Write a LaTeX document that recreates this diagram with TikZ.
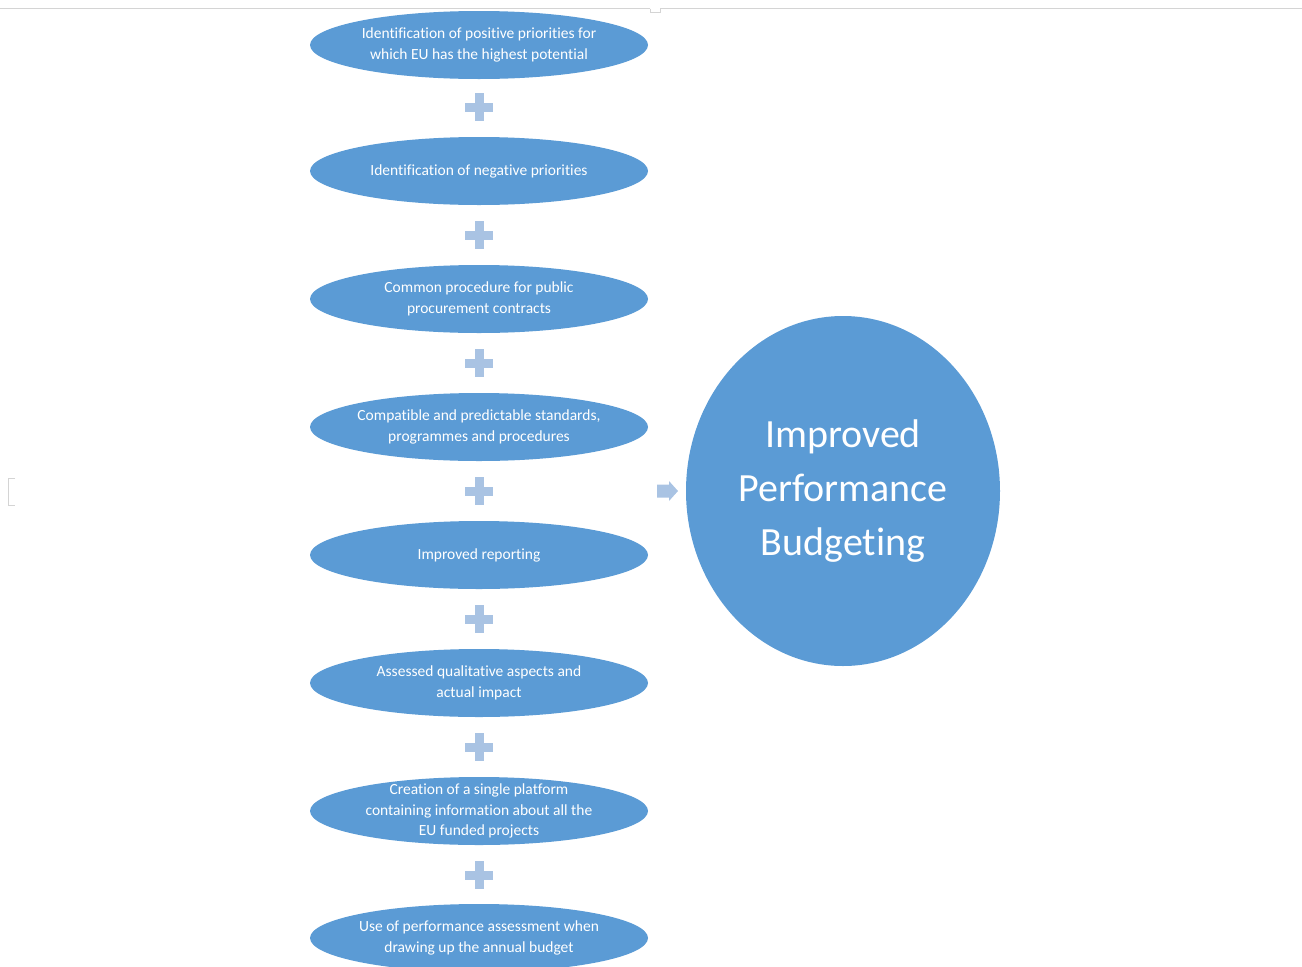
\documentclass[tikz,border=0pt]{standalone}
\usepackage{fontspec}
\setmainfont[RawFeature={-liga;-clig;-dlig;-calt}]{Carlito}
\usetikzlibrary{shapes.geometric}
\definecolor{stepblue}{HTML}{5B9BD5}
\definecolor{plusblue}{HTML}{A9C3E3}
\definecolor{framegray}{HTML}{D4D4D4}
\tikzset{
  stepbox/.style={ellipse, fill=stepblue, text=white, minimum width=338pt, minimum height=68pt,
    inner xsep=-60pt, inner ysep=-20pt, align=center, font=\fontsize{15.5}{20.5}\selectfont},
  resultbox/.style={ellipse, fill=stepblue, text=white, minimum width=314pt, minimum height=350pt,
    inner sep=0pt, align=center, font=\fontsize{40}{54}\selectfont},
  plussign/.pic={\fill[plusblue] (-4.5,-14) rectangle (4.5,14); \fill[plusblue] (-14,-4.5) rectangle (14,4.5);},
  arrowmark/.pic={\fill[plusblue] (-10,-6.5) -- (2,-6.5) -- (2,-10) -- (11,0) -- (2,10) -- (2,6.5) -- (-10,6.5) -- cycle;}
}
\begin{document}
\begin{tikzpicture}[x=1pt,y=-1pt]
\useasboundingbox (0,0) rectangle (1302,967);
\draw[framegray, line width=1pt] (0,8.5) -- (650,8.5) (660,8.5) -- (1302,8.5);
\draw[framegray, line width=1pt] (650,8.5) -- (650,12) -- (660,12) -- (660,8.5);
\draw[framegray, line width=1pt] (15,478) -- (8,478) -- (8,505) -- (15,505);
\begin{scope}
\clip (0,0) rectangle (1302,967);
\node[stepbox] (s1) at (479,45) {Identification of positive priorities for\\which EU has the highest potential};
\node[stepbox] (s2) at (479,171) {Identification of negative priorities};
\node[stepbox] (s3) at (479,299) {Common procedure for public\\procurement contracts};
\node[stepbox] (s4) at (479,427) {Compatible and predictable standards,\\programmes and procedures};
\node[stepbox] (s5) at (479,555) {Improved reporting};
\node[stepbox] (s6) at (479,683) {Assessed qualitative aspects and\\actual impact};
\node[stepbox] (s7) at (479,811) {Creation of a single platform\\containing information about all the\\EU funded projects};
\node[stepbox] (s8) at (479,938) {Use of performance assessment when\\drawing up the annual budget};
\end{scope}
\path (479,107) pic {plussign};
\path (479,235) pic {plussign};
\path (479,363) pic {plussign};
\path (479,491) pic {plussign};
\path (479,619) pic {plussign};
\path (479,747) pic {plussign};
\path (479,875) pic {plussign};
\path (667,491) pic {arrowmark};
\node[resultbox] (res) at (843,491) {Improved\\Performance\\Budgeting};
\end{tikzpicture}
\end{document}
